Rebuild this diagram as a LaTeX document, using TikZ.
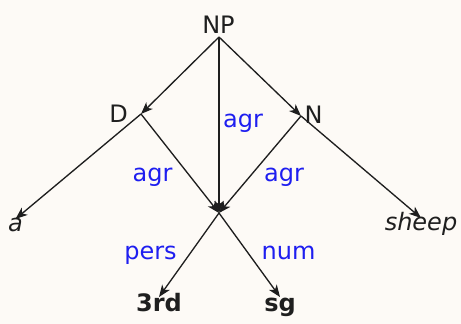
\documentclass[tikz,border=0pt]{standalone}
\usepackage{fontspec}
\setmainfont{DejaVu Sans}
\usetikzlibrary{arrows.meta}
\definecolor{bgpaper}{RGB}{253,250,246}
\definecolor{agrblue}{RGB}{30,30,240}
\definecolor{inkline}{RGB}{30,30,30}
\tikzset{every picture/.style={line width=1pt}}
\tikzset{
  edge/.style={draw=inkline, -{Stealth[length=9pt,width=7pt,inset=2.5pt]}},
  tag/.style={inner sep=0pt, font=\fontsize{18}{20}\selectfont, text=black!88},
  lbl/.style={tag, text=agrblue, anchor=base},
  leaf/.style={tag, anchor=north, text height=0.76em, text depth=0.24em, inner sep=1pt},
  feat/.style={leaf, inner ysep=3pt, font=\fontsize{18}{20}\selectfont\bfseries},
}
\begin{document}
\begin{tikzpicture}[x=0.75pt,y=0.75pt,yscale=-1,xscale=1]
%set diagram left start at 0, and has height of 324
\fill[bgpaper] (0,0) rectangle (461,324);
\useasboundingbox (0,0) rectangle (461,324);

% Junctions
\coordinate (np) at (219,37);
\coordinate (d) at (141,114);
\coordinate (n) at (301,116);
\coordinate (agr) at (219,213);

% Text Node
\node[tag, anchor=south] (nptxt) at (218.5,34) {NP};
\node[tag] (dtxt) at (118.5,113.5) {D};
\node[tag] (ntxt) at (313.5,115) {N};

\node[leaf] (a) at (15.5,219) {\itshape a};
\node[leaf] (sheep) at (421,218) {\itshape sheep};
\node[feat] (third) at (159,297) {3rd};
\node[feat] (sg) at (280,297) {sg};

%Straight Lines
\draw[edge] (np) -- (d);
\draw[edge] (np) -- (agr);
\draw[edge] (np) -- (n);
\draw[edge] (d) -- (agr);
\draw[edge] (n) -- (agr);
\draw[edge] (d) -- (a.north);
\draw[edge] (n) -- (sheep.north);
\draw[edge] (agr) -- (third.north);
\draw[edge] (agr) -- (sg.north);

% Edge labels
\node[lbl] (agrmid) at (243,128) {agr};
\node[lbl] (agrleft) at (152.5,182) {agr};
\node[lbl] (agrright) at (284,182) {agr};
\node[lbl] (pers) at (150.5,260) {pers};
\node[lbl] (num) at (288.5,259.5) {num};
\end{tikzpicture}
\end{document}
